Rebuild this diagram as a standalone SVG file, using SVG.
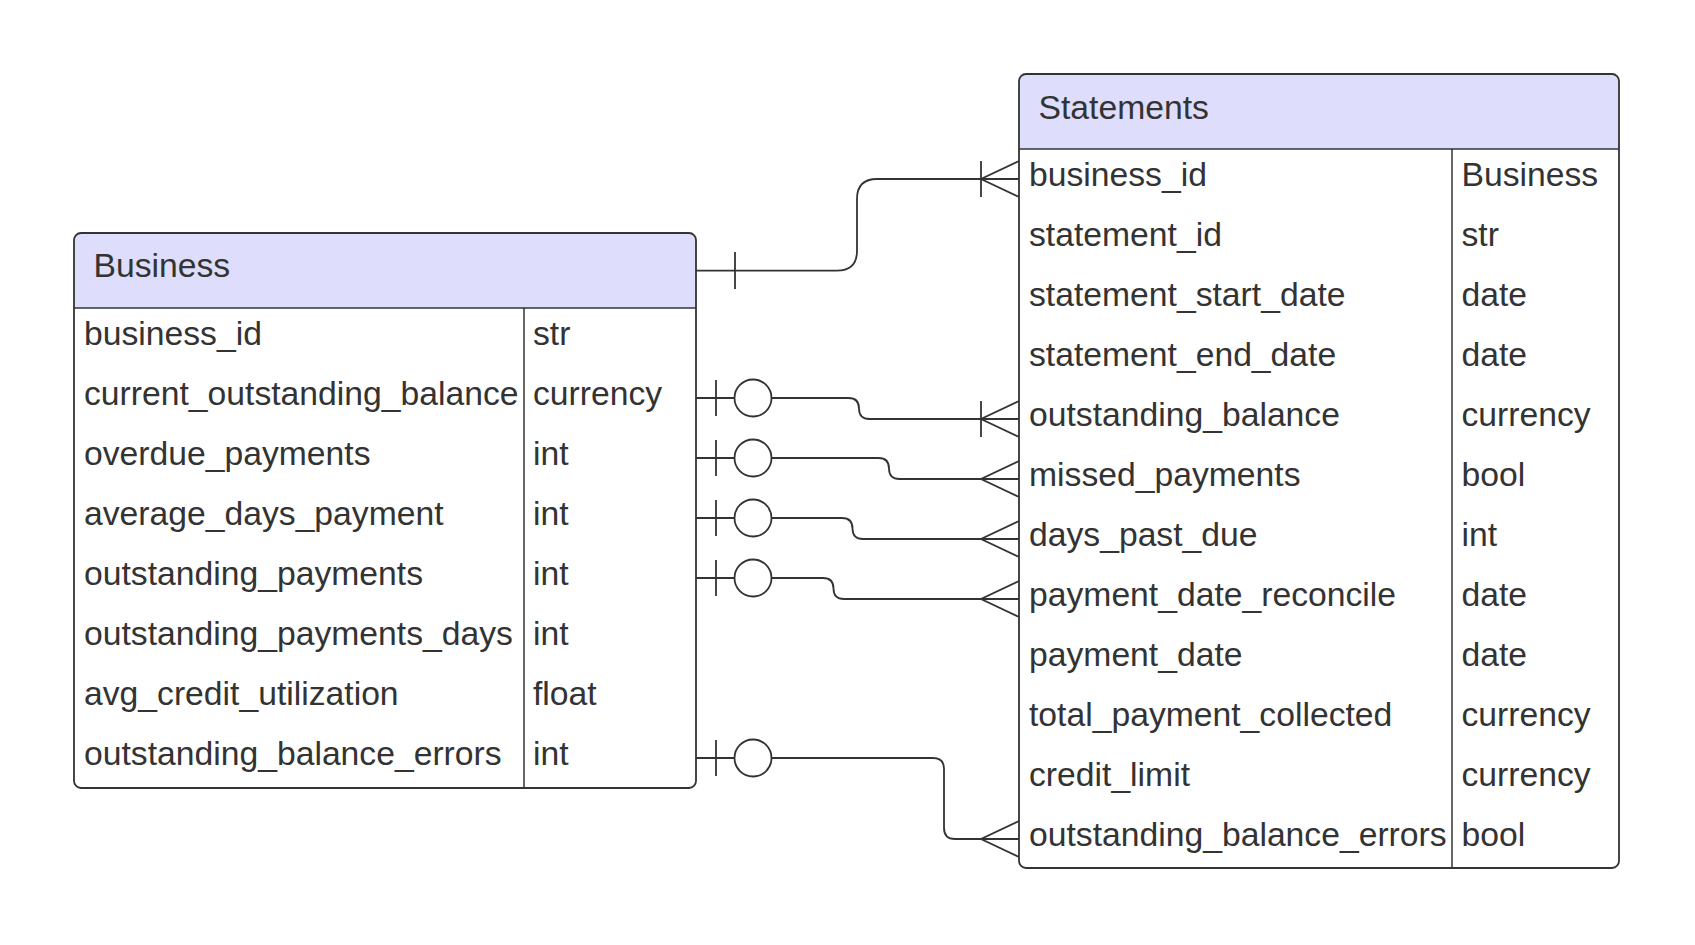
<svg xmlns="http://www.w3.org/2000/svg" width="1695" height="945" viewBox="0 0 1695 945">
<style>
.box{fill:#ffffff;stroke:none}
.hdr{fill:#dedefc;stroke:none}
.outline{fill:none;stroke:#333333;stroke-width:1.8}
.div{stroke:#333333;stroke-width:1.5}
.t{font-family:"Liberation Sans",Arial,sans-serif;font-size:33.7px;fill:#333333}
.edge{fill:none;stroke:#333333;stroke-width:1.8}
.mk{fill:none;stroke:#333333;stroke-width:1.8}
.circ{fill:#ffffff;stroke:#333333;stroke-width:1.8}
</style>
<rect width="1695" height="945" fill="#ffffff"/>
<g id="connectors">
  <path class="edge" d="M696,270.7 L837,270.7 Q857,270.7 857,250.7 L857,199 Q857,179 877,179 L1019,179"/>
  <line class="mk" x1="735" y1="252" x2="735" y2="289"/>
  <line class="mk" x1="981" y1="161" x2="981" y2="197"/>
  <polyline class="mk" points="1019,161 981,179 1019,197"/>

  <path class="edge" d="M696,398 L848.5,398 Q859,398 859,408.5 Q859,419 869.5,419 L1019,419"/>
  <line class="mk" x1="716" y1="380" x2="716" y2="416"/>
  <circle class="circ" cx="753" cy="398" r="18.5"/>
  <line class="mk" x1="981" y1="401" x2="981" y2="437"/>
  <polyline class="mk" points="1019,401 981,419 1019,437"/>

  <path class="edge" d="M696,458 L878.5,458 Q889,458 889,468.5 Q889,479 899.5,479 L1019,479"/>
  <line class="mk" x1="716" y1="440" x2="716" y2="476"/>
  <circle class="circ" cx="753" cy="458" r="18.5"/>
  <polyline class="mk" points="1019,461 981,479 1019,497"/>

  <path class="edge" d="M696,518 L842,518 Q852.5,518 852.5,528.5 Q852.5,539 863,539 L1019,539"/>
  <line class="mk" x1="716" y1="500" x2="716" y2="536"/>
  <circle class="circ" cx="753" cy="518" r="18.5"/>
  <polyline class="mk" points="1019,521 981,539 1019,557"/>

  <path class="edge" d="M696,578 L823,578 Q833.5,578 833.5,588.5 Q833.5,599 844,599 L1019,599"/>
  <line class="mk" x1="716" y1="560" x2="716" y2="596"/>
  <circle class="circ" cx="753" cy="578" r="18.5"/>
  <polyline class="mk" points="1019,581 981,599 1019,617"/>

  <path class="edge" d="M696,758 L933,758 Q944,758 944,769 L944,828 Q944,839 955,839 L1019,839"/>
  <line class="mk" x1="716" y1="740" x2="716" y2="776"/>
  <circle class="circ" cx="753" cy="758" r="18.5"/>
  <polyline class="mk" points="1019,821 981,839 1019,857"/>
</g>
<g id="Business">
  <rect class="box" x="74" y="233" width="622" height="555" rx="7"/>
  <path class="hdr" d="M74,308 L74,240 Q74,233 81,233 L689,233 Q696,233 696,240 L696,308 Z"/>
  <rect class="outline" x="74" y="233" width="622" height="555" rx="7"/>
  <line class="div" x1="74" y1="308" x2="696" y2="308"/>
  <line class="div" x1="524" y1="308" x2="524" y2="788"/>
  <text class="t" x="93.5" y="277">Business</text>
  <text class="t" x="84" y="345">business_id</text><text class="t" x="533" y="345">str</text>
  <text class="t" x="84" y="405">current_outstanding_balance</text><text class="t" x="533" y="405">currency</text>
  <text class="t" x="84" y="465">overdue_payments</text><text class="t" x="533" y="465">int</text>
  <text class="t" x="84" y="525">average_days_payment</text><text class="t" x="533" y="525">int</text>
  <text class="t" x="84" y="585">outstanding_payments</text><text class="t" x="533" y="585">int</text>
  <text class="t" x="84" y="645">outstanding_payments_days</text><text class="t" x="533" y="645">int</text>
  <text class="t" x="84" y="705">avg_credit_utilization</text><text class="t" x="533" y="705">float</text>
  <text class="t" x="84" y="765">outstanding_balance_errors</text><text class="t" x="533" y="765">int</text>
</g>
<g id="Statements">
  <rect class="box" x="1019" y="74" width="600" height="794" rx="7"/>
  <path class="hdr" d="M1019,149 L1019,81 Q1019,74 1026,74 L1612,74 Q1619,74 1619,81 L1619,149 Z"/>
  <rect class="outline" x="1019" y="74" width="600" height="794" rx="7"/>
  <line class="div" x1="1019" y1="149" x2="1619" y2="149"/>
  <line class="div" x1="1452" y1="149" x2="1452" y2="868"/>
  <text class="t" x="1038.5" y="118.5">Statements</text>
  <text class="t" x="1029" y="186">business_id</text><text class="t" x="1461.5" y="186">Business</text>
  <text class="t" x="1029" y="246">statement_id</text><text class="t" x="1461.5" y="246">str</text>
  <text class="t" x="1029" y="306">statement_start_date</text><text class="t" x="1461.5" y="306">date</text>
  <text class="t" x="1029" y="366">statement_end_date</text><text class="t" x="1461.5" y="366">date</text>
  <text class="t" x="1029" y="426">outstanding_balance</text><text class="t" x="1461.5" y="426">currency</text>
  <text class="t" x="1029" y="486">missed_payments</text><text class="t" x="1461.5" y="486">bool</text>
  <text class="t" x="1029" y="546">days_past_due</text><text class="t" x="1461.5" y="546">int</text>
  <text class="t" x="1029" y="606">payment_date_reconcile</text><text class="t" x="1461.5" y="606">date</text>
  <text class="t" x="1029" y="666">payment_date</text><text class="t" x="1461.5" y="666">date</text>
  <text class="t" x="1029" y="726">total_payment_collected</text><text class="t" x="1461.5" y="726">currency</text>
  <text class="t" x="1029" y="786">credit_limit</text><text class="t" x="1461.5" y="786">currency</text>
  <text class="t" x="1029" y="846">outstanding_balance_errors</text><text class="t" x="1461.5" y="846">bool</text>
</g>
</svg>
